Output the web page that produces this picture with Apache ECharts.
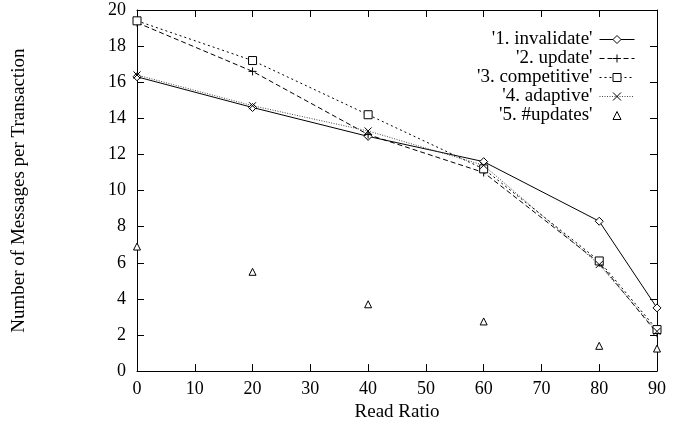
<!DOCTYPE html>
<html><head><meta charset="utf-8">
<script src="https://cdn.jsdelivr.net/npm/echarts@6/dist/echarts.min.js"></script>
<style>html,body{margin:0;padding:0;background:#fff}#c{width:680px;height:427px}</style>
</head><body><div id="c"></div>
<script>
const readRatio = [0, 20, 40, 60, 80, 90];
const invalidate = [16.3, 14.6, 13.0, 11.6, 8.3, 3.5];
const update = [19.3, 16.6, 13.1, 11.0, 6.0, 2.1];
const competitive = [19.4, 17.2, 14.2, 11.2, 6.1, 2.3];
const adaptive = [16.4, 14.7, 13.3, 11.4, 5.9, 2.2];
const numUpdates = [6.9, 5.5, 3.7, 2.75, 1.4, 1.25];
const seriesNames = ["'1. invalidate'", "'2. update'", "'3. competitive'", "'4. adaptive'", "'5. #updates'"];

const pair = arr => readRatio.map((x, i) => [x, arr[i]]);
const FONT = '"Liberation Serif", "DejaVu Serif", serif';
const plusPath = 'path://M0,5L10,5M5,0L5,10';
const crossPath = 'path://M0,0L10,10M10,0L0,10';

const chart = echarts.init(document.getElementById('c'), null, {renderer: 'canvas'});
const axisLine = {show: true, onZero: false, lineStyle: {color: '#000', width: 1}};
const tick = {inside: true, length: 7, lineStyle: {color: '#000'}};
const baseLine = (name, data, symbol, size, lineStyle) => ({
  name, type: 'line', data: pair(data), symbol, symbolSize: size,
  showAllSymbol: true,
  lineStyle: Object.assign({width: 1}, lineStyle),
  itemStyle: {color: '#fff', borderColor: '#000', borderWidth: 1},
  emphasis: {disabled: true}, z: 3
});
chart.setOption({
  animation: false,
  grid: {left: 137, right: 23, top: 10, bottom: 52},
  legend: {
    right: 40, top: 25, orient: 'vertical', align: 'right',
    itemWidth: 35, itemHeight: 10, itemGap: 0,
    lineStyle: {width: 1},
    itemStyle: {borderWidth: 1},
    textStyle: {fontFamily: FONT, fontSize: 19, color: '#000', lineHeight: 18.5, padding: [0, 2, 0, 0]},
    data: seriesNames
  },
  xAxis: [{
    type: 'value', min: 0, max: 90, interval: 10,
    name: 'Read Ratio', nameLocation: 'middle', nameGap: 31,
    nameTextStyle: {fontFamily: FONT, fontSize: 19, color: '#000'},
    axisLine, axisTick: tick,
    axisLabel: {fontFamily: FONT, fontSize: 18, color: '#000', margin: 9},
    splitLine: {show: false}
  }, {
    type: 'value', min: 0, max: 90, interval: 10, position: 'top',
    axisLine, axisTick: tick,
    axisLabel: {show: false}, splitLine: {show: false}
  }],
  yAxis: [{
    type: 'value', min: 0, max: 20, interval: 2,
    name: 'Number of Messages per Transaction', nameLocation: 'middle', nameGap: 108,
    nameTextStyle: {fontFamily: FONT, fontSize: 19, color: '#000'},
    axisLine, axisTick: tick,
    axisLabel: {fontFamily: FONT, fontSize: 18, color: '#000', margin: 11},
    splitLine: {show: false}
  }, {
    type: 'value', min: 0, max: 20, interval: 2, position: 'right',
    axisLine, axisTick: tick,
    axisLabel: {show: false}, splitLine: {show: false}
  }],
  series: [
    baseLine(seriesNames[0], invalidate, 'diamond', 8, {color: '#000', type: 'solid'}),
    baseLine(seriesNames[1], update, plusPath, 8, {color: '#000', type: [5, 3]}),
    baseLine(seriesNames[2], competitive, 'rect', 8, {color: '#000', type: [2, 3]}),
    baseLine(seriesNames[3], adaptive, crossPath, 7, {color: '#444', type: [1, 1.5]}),
    baseLine(seriesNames[4], numUpdates, 'triangle', 7, {color: '#000', width: 0, opacity: 0})
  ]
});
</script></body></html>
